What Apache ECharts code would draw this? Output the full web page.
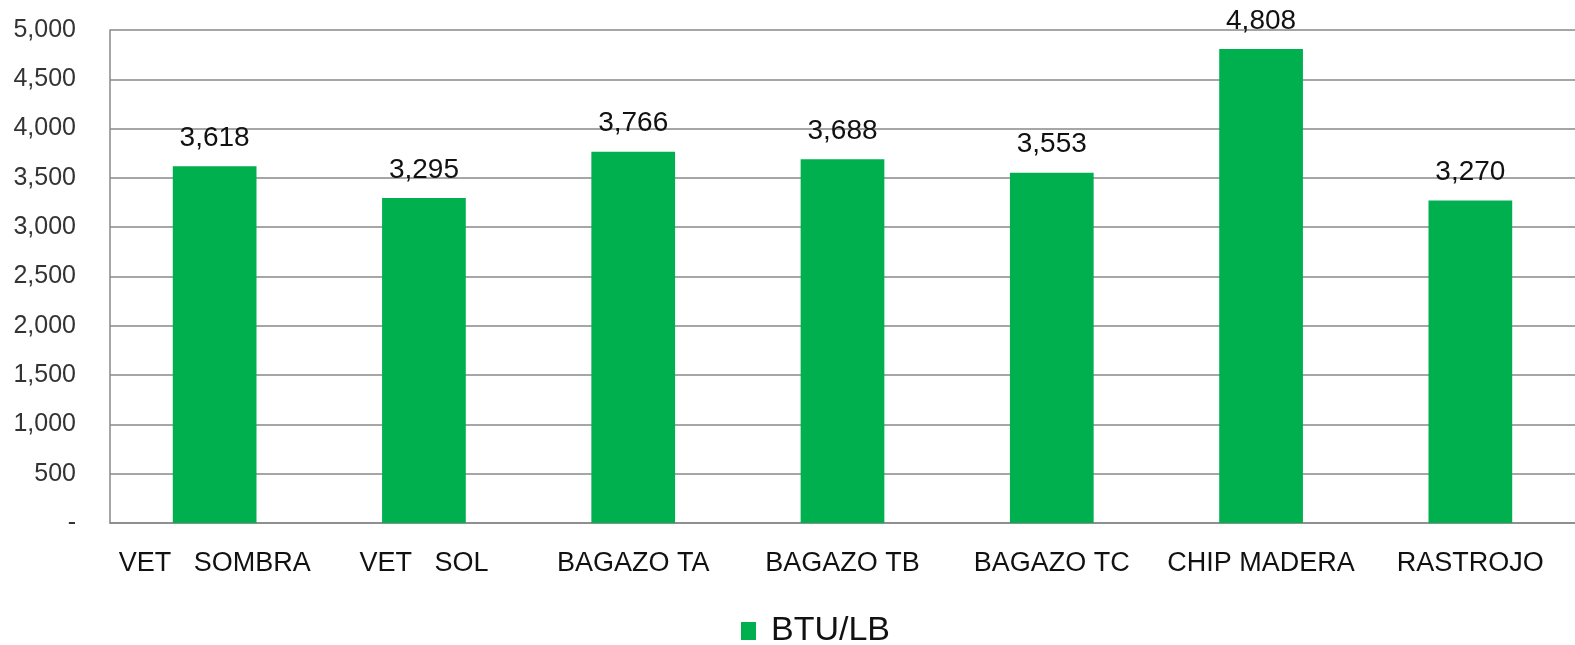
<!DOCTYPE html>
<html>
<head>
<meta charset="utf-8">
<script src="https://cdn.jsdelivr.net/npm/echarts@6/dist/echarts.min.js"></script>
<style>
  html, body { margin: 0; padding: 0; background: #fff; }
  #chart { width: 1575px; height: 645px; }
</style>
</head>
<body>
<div id="chart"></div>
<script>
// categories and values
var categories = ['VET   SOMBRA', 'VET   SOL', 'BAGAZO TA', 'BAGAZO TB', 'BAGAZO TC', 'CHIP MADERA', 'RASTROJO'];
var btuValues = [3618, 3295, 3766, 3688, 3553, 4808, 3270];
var seriesName = 'BTU/LB';

var chart = echarts.init(document.getElementById('chart'));

function fmt(v) {
  if (v === 0) return '-';
  return v.toLocaleString('en-US');
}

var option = {
  animation: false,
  textStyle: { fontFamily: 'Liberation Sans, Arial, sans-serif' },
  grid: {
    left: 110,
    right: -6,
    top: 30,
    bottom: 122
  },
  legend: {
    top: 614,
    left: 741,
    padding: 0,
    itemWidth: 15,
    itemHeight: 18,
    itemGap: 6,
    icon: 'rect',
    textStyle: { fontSize: 34, color: '#111', padding: [0, 0, 0, 10], fontFamily: 'Liberation Sans, Arial, sans-serif' },
    data: [seriesName]
  },
  xAxis: {
    type: 'category',
    data: categories,
    axisLine: { show: true, lineStyle: { color: '#888', width: 1.5 } },
    axisTick: { show: false },
    axisLabel: {
      interval: 0,
      hideOverlap: false,
      fontSize: 27,
      color: '#111',
      margin: 27
    }
  },
  yAxis: {
    type: 'value',
    min: 0,
    max: 5000,
    interval: 500,
    axisLine: { show: true, lineStyle: { color: '#888', width: 1.5 } },
    axisTick: { show: false },
    splitLine: { lineStyle: { color: '#888', width: 1.5 } },
    axisLabel: {
      fontSize: 25,
      color: '#333',
      margin: 34,
      formatter: fmt
    }
  },
  series: [{
    name: seriesName,
    type: 'bar',
    data: btuValues,
    barWidth: '40%',
    itemStyle: { color: '#00b04f' },
    label: {
      show: true,
      position: 'top',
      distance: 14,
      fontSize: 28,
      color: '#111',
      formatter: function (p) { return fmt(p.value); }
    }
  }]
};

chart.setOption(option);
</script>
</body>
</html>
